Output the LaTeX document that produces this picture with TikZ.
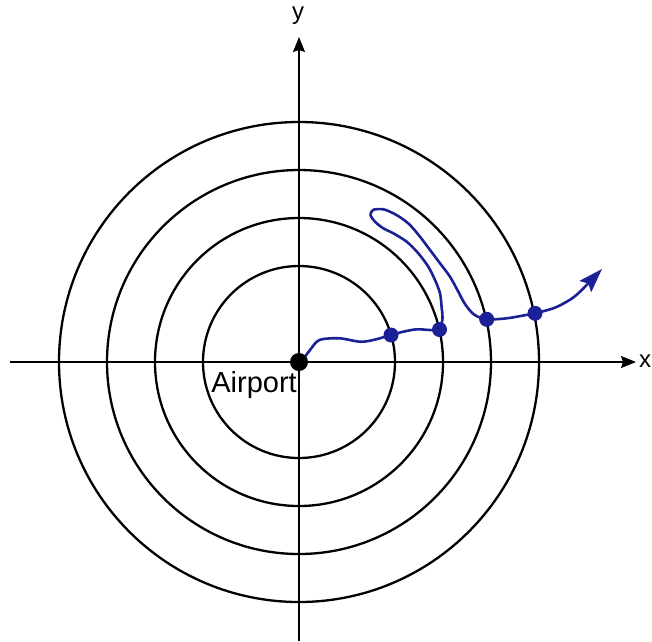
\documentclass[tikz,border=0pt]{standalone}
\usepackage{fontspec}
\setmainfont{Liberation Sans}
\usetikzlibrary{arrows.meta}
\definecolor{pathblue}{RGB}{28,32,150}
\begin{document}
\begin{tikzpicture}[x=1pt,y=-1pt,
  ring/.style={line width=2.3pt,black},
  axisline/.style={line width=1.4pt,black,-{Stealth[length=15pt,width=12pt,inset=2pt]}},
  lab/.style={font=\fontsize{24}{28}\selectfont,inner sep=0pt,anchor=base},
  dotblack/.style={circle,fill=black,minimum size=18pt,inner sep=0pt},
  dotblue/.style={circle,fill=pathblue,minimum size=15pt,inner sep=0pt},
  track/.style={line width=2.6pt,pathblue,line cap=round,line join=round}]
\useasboundingbox (0,0) rectangle (652,641);
\coordinate (O) at (299,362);
\foreach \r in {96,144,192,240} \draw[ring] (O) circle[radius=\r];
% axes
\coordinate (xs) at (10,362);
\coordinate (xe) at (636,362);
\coordinate (ys) at (299,641);
\coordinate (ye) at (299,37);
\draw[axisline] (xs) -- (xe);
\draw[axisline] (ys) -- (ye);
\node[lab] (xlab) at (645,367) {x};
\node[lab] (ylab) at (298,19.5) {y};
\node[font=\fontsize{29}{34}\selectfont,inner sep=0pt,anchor=base east] (airlab) at (297,392) {Airport};
% track
\coordinate (d1) at (391,335);
\coordinate (d2) at (439.5,329.5);
\coordinate (d3) at (486.7,319.3);
\coordinate (d4) at (535,313.3);
\coordinate (tip) at (602,269);
\draw[track,-{Stealth[length=24pt,width=16pt,inset=4pt]}] plot[smooth,tension=0.5] coordinates {
 (O) (303,359) (310,350) (316.7,341.7) (323.3,339) (340,338.3) (360,341.7) (373.3,340)
 (d1) (403.3,331.7) (416.7,329.3) (430,330) (d2)
 (442.5,318) (441.7,308) (440,293.3) (435,280) (428.3,266.7) (418.3,253.3) (406.7,241.7)
 (393.3,233.3) (383.3,228.3) (375,221.7) (370.5,215) (373.3,209.8) (383.3,209.3)
 (393.3,213.3) (401.7,218.3) (410,225) (420,236.7) (430,250) (440,263.3) (450,276.7)
 (458.3,291.7) (465,304) (474,314.5) (d3) (506.7,318.3) (523.3,315.5) (d4)
 (553.3,308.3) (566.7,301.7) (578.3,293.3) (tip)};
\node[dotblack] (airport) at (O) {};
\node[dotblue] (n1) at (d1) {};
\node[dotblue] (n2) at (d2) {};
\node[dotblue] (n3) at (d3) {};
\node[dotblue] (n4) at (d4) {};
\end{tikzpicture}
\end{document}
